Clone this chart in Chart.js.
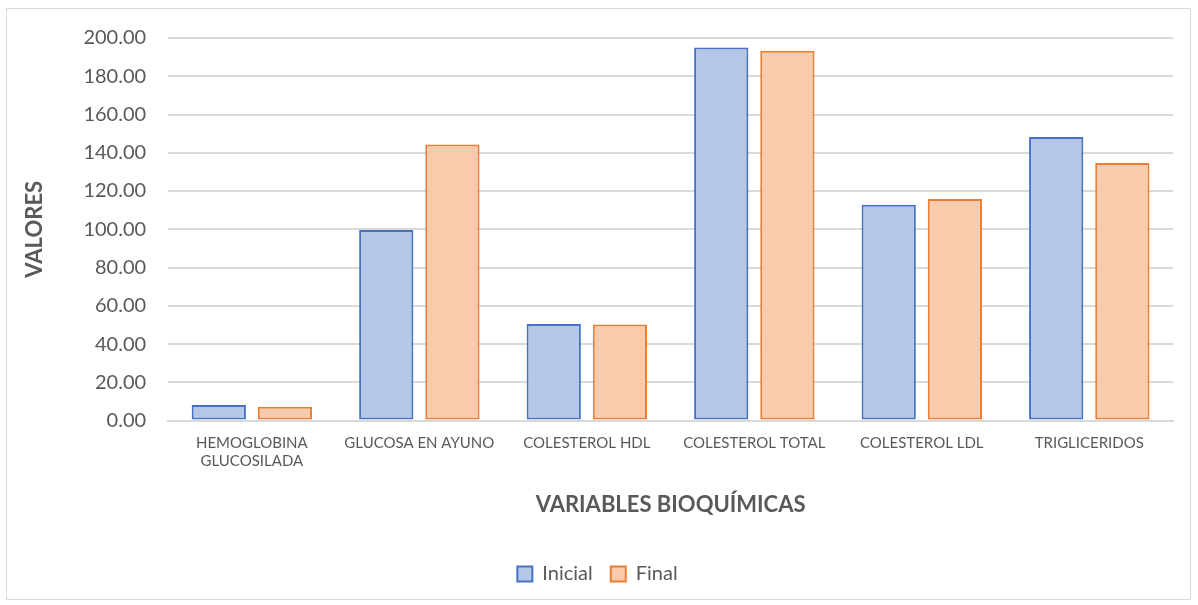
<!DOCTYPE html>
<html><head><meta charset="utf-8">
<script src="https://cdn.jsdelivr.net/npm/chart.js@4"></script>
<style>
html,body{margin:0;padding:0;background:#fff;}
#wrap{position:absolute;left:6px;top:8px;width:1185px;height:592px;border:1px solid #d9d9d9;box-sizing:border-box;}
#c{position:absolute;left:0;top:0;}
</style></head><body>
<div id="wrap"></div>
<canvas id="c" width="1198" height="605"></canvas>
<script>
const categories = [["HEMOGLOBINA","GLUCOSILADA"],"GLUCOSA EN AYUNO","COLESTEROL HDL","COLESTEROL TOTAL","COLESTEROL LDL","TRIGLICERIDOS"];
const inicial = [8.2, 99.6, 50.5, 195.0, 112.8, 148.2];
const finalV = [7.3, 144.3, 50.2, 193.4, 115.9, 134.6];
const yTicks = [0,20,40,60,80,100,120,140,160,180,200];
const FONT = "Lato";
const TXT = "#595959";
new Chart(document.getElementById('c'), {
  type: 'bar',
  data: {
    labels: categories,
    datasets: [
      {label:'Inicial', data: inicial, backgroundColor:'#b4c7e7', borderColor:'#4472c4', borderWidth:2, borderSkipped:false, categoryPercentage:0.79, barPercentage:0.82},
      {label:'Final', data: finalV, backgroundColor:'#f8cbad', borderColor:'#ed7d31', borderWidth:2, borderSkipped:false, categoryPercentage:0.79, barPercentage:0.82}
    ]
  },
  options: {
    responsive:false, animation:false,
    layout:{padding:{left:22,right:25,top:38,bottom:11}},
    plugins:{
      tooltip:{enabled:false},
      legend:{position:'bottom', labels:{font:{family:FONT,size:20}, color:TXT, boxWidth:15, boxHeight:15, padding:18}},
    },
    scales:{
      x:{
        grid:{display:false},
        border:{color:'#d9d9d9', width:2},
        ticks:{font:{family:FONT,size:15}, color:TXT, maxRotation:0, padding:6},
        title:{display:true, text:'VARIABLES BIOQUÍMICAS', font:{family:FONT,size:22,weight:'bold'}, color:TXT, padding:{top:15,bottom:28}}
      },
      y:{
        min:0, max:200,
        afterBuildTicks:(s)=>{s.ticks = yTicks.map(v=>({value:v}));},
        grid:{color:'#d9d9d9', lineWidth:2, drawTicks:false},
        border:{display:false},
        ticks:{font:{family:FONT,size:20}, color:TXT, padding:22, callback:(v)=>Number(v).toFixed(2)},
        title:{display:true, text:'VALORES', font:{family:FONT,size:22,weight:'bold'}, color:TXT, padding:{top:0,bottom:13}}
      }
    }
  }
});
</script>
</body></html>
